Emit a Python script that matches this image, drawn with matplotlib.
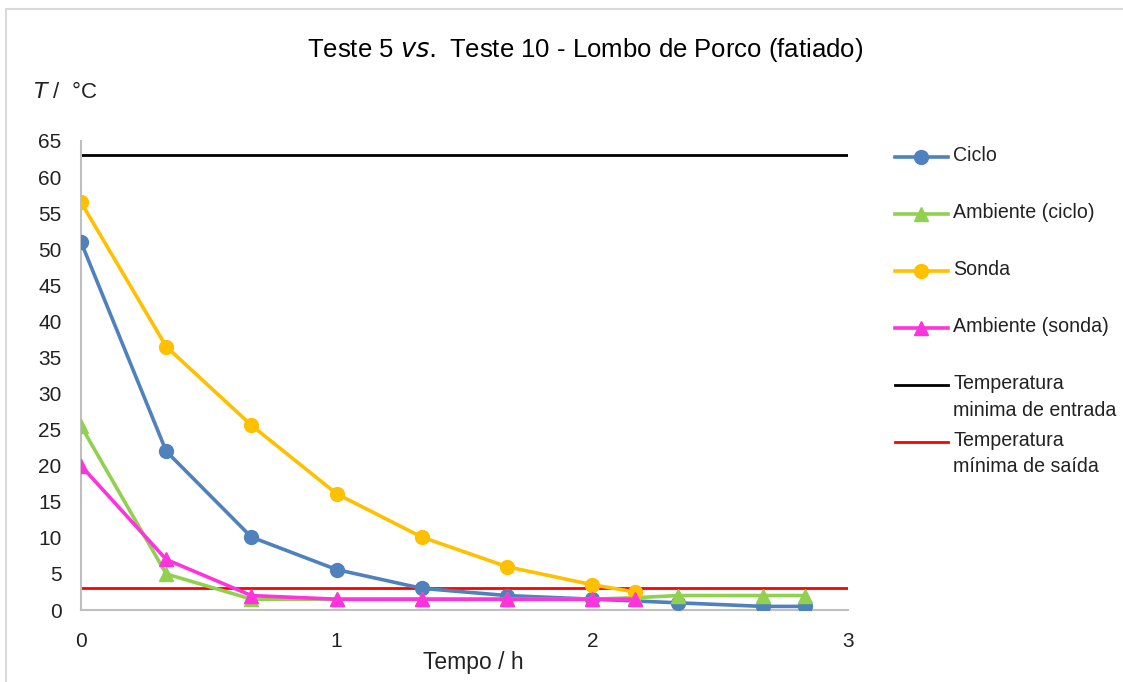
import matplotlib
matplotlib.use("Agg")
import matplotlib.pyplot as plt
from matplotlib.patches import Rectangle
from matplotlib.lines import Line2D

# Time (h) and temperatures (°C)
t_ciclo = [0, 1/3, 2/3, 1, 4/3, 5/3, 2, 7/3, 8/3, 17/6]
ciclo = [51.0, 22.0, 10.1, 5.6, 3.0, 2.0, 1.5, 1.0, 0.5, 0.5]

t_amb_ciclo = [0, 1/3, 2/3, 1, 4/3, 5/3, 2, 13/6, 7/3, 8/3, 17/6]
amb_ciclo = [25.5, 5.0, 1.5, 1.5, 1.5, 1.5, 1.5, 1.7, 2.0, 2.0, 2.0]

t_sonda = [0, 1/3, 2/3, 1, 4/3, 5/3, 2, 13/6]
sonda = [56.5, 36.5, 25.6, 16.1, 10.1, 6.0, 3.5, 2.5]

t_amb_sonda = [0, 1/3, 2/3, 1, 4/3, 5/3, 2, 13/6]
amb_sonda = [20.0, 7.0, 2.0, 1.5, 1.5, 1.5, 1.5, 1.5]

temp_entrada = 63
temp_saida = 3

x_ticks = [0, 1, 2, 3]
y_ticks = list(range(0, 70, 5))

legend_labels = ["Ciclo", "Ambiente (ciclo)", "Sonda", "Ambiente (sonda)",
                 "Temperatura\nminima de entrada", "Temperatura\nmínima de saída"]

plt.rcParams["font.family"] = ["Liberation Sans", "DejaVu Sans"]

W, H = 1123, 682
fig = plt.figure(figsize=(W / 100, H / 100), dpi=100)
fig.patches.append(Rectangle((6 / W, -0.1), 1.2, 1 - 9 / H + 0.1,
                             transform=fig.transFigure, fill=False,
                             edgecolor="#d9d9d9", linewidth=1.5))

ax = fig.add_axes([81 / W, 1 - 610 / H, (848 - 81) / W, (610 - 141) / H])

lw = 2.6
ms = 10
styles = [
    dict(color="#4f81bd", lw=lw, marker="o", ms=ms),
    dict(color="#92d050", lw=lw, marker="^", ms=ms),
    dict(color="#ffc000", lw=lw, marker="o", ms=ms),
    dict(color="#ff33dd", lw=lw, marker="^", ms=ms),
    dict(color="black", lw=2.0),
    dict(color="#ff0000", lw=2.0),
]

ax.axhline(temp_entrada, zorder=2, **styles[4])
ax.axhline(temp_saida, zorder=2, **styles[5])
ax.plot(t_ciclo, ciclo, zorder=3, **styles[0])
ax.plot(t_amb_ciclo, amb_ciclo, zorder=3, **styles[1])
ax.plot(t_sonda, sonda, zorder=3, **styles[2])
ax.plot(t_amb_sonda, amb_sonda, zorder=4, **styles[3])

ax.set_xlim(0, 3)
ax.set_ylim(0, 65)
ax.set_xticks(x_ticks)
ax.set_yticks(y_ticks)
ax.tick_params(length=0, labelsize=15, colors="#222222")
ax.tick_params(axis="y", pad=14)
ax.tick_params(axis="x", pad=16)
for side in ("top", "right"):
    ax.spines[side].set_visible(False)
for side in ("left", "bottom"):
    ax.spines[side].set_color("#bfbfbf")
    ax.spines[side].set_linewidth(1.5)

fig.text(585 / W, 1 - 50 / H, "Teste 5 $\\it{vs.}$ Teste 10 - Lombo de Porco (fatiado)",
         ha="center", va="center", fontsize=18.5, color="black")
fig.text(33 / W, 1 - 92 / H, "$\\it{T}$ /  °C", ha="left", va="center",
         fontsize=16, color="#222222")
fig.text(473 / W, 1 - 663 / H, "Tempo / h", ha="center", va="center",
         fontsize=16.5, color="#222222")

# Legend drawn entry by entry, each handle aligned with the first text line
legend_rows = [157, 214, 271, 328, 385, 442]
for y, label, st in zip(legend_rows, legend_labels, styles):
    yf = 1 - y / H
    fig.add_artist(Line2D([895 / W, 948 / W], [yf, yf], transform=fig.transFigure,
                          color=st["color"], lw=st["lw"]))
    if "marker" in st:
        fig.add_artist(Line2D([921 / W], [yf], transform=fig.transFigure,
                              color=st["color"], marker=st["marker"], ms=st["ms"],
                              linestyle="none"))
    fig.text(953 / W, yf + 11 / H, label, ha="left", va="top", fontsize=14.1,
             color="#222222", linespacing=1.5)

fig.savefig("out.png", dpi=100)
